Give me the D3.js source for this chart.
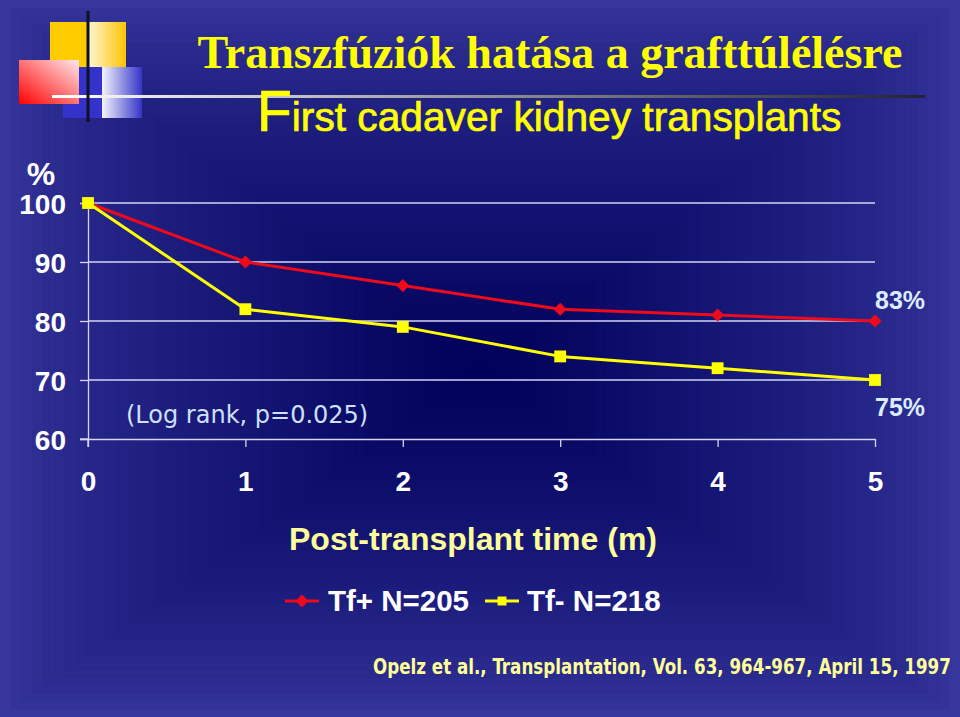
<!DOCTYPE html>
<html>
<head>
<meta charset="utf-8">
<script src="https://cdn.jsdelivr.net/npm/d3@7"></script>
<style>
  html, body { margin: 0; padding: 0; background: #2a2a8c; }
  svg { display: block; }
</style>
</head>
<body>
<div id="chart"></div>
<script>
// data
const months = [0, 1, 2, 3, 4, 5];
const tfPlus = [100, 90, 86, 82, 81, 80];
const tfMinus = [100, 82, 79, 74, 72, 70];
const yTicks = [60, 70, 80, 90, 100];
const gridTicks = [70, 80, 90, 100];
const seriesNames = ["Tf+ N=205", "Tf- N=218"];
const endLabels = ["83%", "75%"];

const width = 960, height = 717;
const margin = {top: 203, right: 85, bottom: 278, left: 88};

const svg = d3.select("#chart").append("svg")
  .attr("width", width)
  .attr("height", height)
  .attr("viewBox", [0, 0, width, height]);

const defs = svg.append("defs");

// background: rectangular gradient, light edge -> dark centre
const bg = svg.append("g");
const steps = 46, cx = 480, cy = 372;
const bgColor = d3.interpolateRgb("#36369c", "#00005a");
for (let i = 0; i < steps; i++) {
  const t = i / steps;
  const c = bgColor(Math.pow(t, 0.7));
  bg.append("rect")
    .attr("x", cx * t)
    .attr("y", cy * t)
    .attr("width", width - width * t)
    .attr("height", height - height * t)
    .attr("fill", c)
    .attr("stroke", d3.color(c).brighter(0.3))
    .attr("stroke-width", 0.6);
}

// decoration in the top left corner
const grad = (id, x1, y1, x2, y2, c1, c2) => {
  const g = defs.append("linearGradient").attr("id", id)
    .attr("x1", x1).attr("y1", y1).attr("x2", x2).attr("y2", y2);
  g.append("stop").attr("offset", "0%").attr("stop-color", c1);
  g.append("stop").attr("offset", "100%").attr("stop-color", c2);
};
grad("yellowGrad", 0, 0, 1, 0, "#fff6d8", "#ffc400");
grad("blueGrad", 0, 0, 1, 0, "#f4f4ff", "#3434c8");
grad("redGrad", 1, 0, 0, 1, "#ffe8ec", "#ff0000");
grad("lineGrad", 0, 0, 1, 0, "#ffffff", "#222233");

const deco = svg.append("g");
deco.append("rect").attr("x", 50).attr("y", 22).attr("width", 38).attr("height", 45).attr("fill", "#ffcc00");
deco.append("rect").attr("x", 88).attr("y", 22).attr("width", 38).attr("height", 45).attr("fill", "url(#yellowGrad)");
deco.append("rect").attr("x", 63).attr("y", 67).attr("width", 39).attr("height", 51).attr("fill", "#3333cc");
deco.append("rect").attr("x", 102).attr("y", 67).attr("width", 40).attr("height", 51).attr("fill", "url(#blueGrad)");
deco.append("rect").attr("x", 19).attr("y", 60).attr("width", 60).attr("height", 44).attr("fill", "url(#redGrad)");
deco.append("rect").attr("x", 52).attr("y", 95).attr("width", 873).attr("height", 3).attr("fill", "url(#lineGrad)");
deco.append("rect").attr("x", 86.5).attr("y", 11).attr("width", 3).attr("height", 111).attr("fill", "#111122");

// titles
svg.append("text")
  .attr("x", 550).attr("y", 68)
  .attr("text-anchor", "middle")
  .attr("font-family", "'Liberation Serif', 'Times New Roman', serif")
  .attr("font-weight", "bold")
  .attr("font-size", 46)
  .attr("fill", "#ffff00")
  .text("Transzfúziók hatása a grafttúlélésre");

const sub = svg.append("text")
  .attr("x", 257).attr("y", 131)
  .attr("font-family", "'Liberation Sans', Arial, sans-serif")
  .attr("fill", "#ffff00")
  .attr("stroke", "#ffff00")
  .attr("stroke-width", 0.7);
sub.append("tspan").attr("font-size", 57).text("F");
sub.append("tspan").attr("font-size", 40.7).text("irst cadaver kidney transplants");

// scales
const x = d3.scaleLinear().domain([0, 5]).range([margin.left, width - margin.right]);
const y = d3.scaleLinear().domain([60, 100]).range([height - margin.bottom, margin.top]);

const axisColor = "#d4d4f4";
const labelFont = "'Liberation Sans', Arial, sans-serif";

// grid lines
svg.append("g")
  .selectAll("line")
  .data(gridTicks)
  .join("line")
  .attr("x1", x(0)).attr("x2", x(5))
  .attr("y1", d => y(d)).attr("y2", d => y(d))
  .attr("stroke", axisColor)
  .attr("stroke-width", 1.3);

// y axis
svg.append("g")
  .attr("transform", `translate(${x(0)},0)`)
  .call(d3.axisLeft(y).tickValues(yTicks).tickSize(8).tickPadding(14))
  .call(g => g.select(".domain").attr("stroke", axisColor).attr("stroke-width", 1.3))
  .call(g => g.selectAll(".tick line").attr("stroke", axisColor).attr("stroke-width", 1.3))
  .call(g => g.selectAll(".tick text")
    .attr("fill", "#ffffff")
    .attr("font-family", labelFont)
    .attr("font-weight", "bold")
    .attr("font-size", 28)
    .attr("dy", "0.36em"));

// x axis
svg.append("g")
  .attr("transform", `translate(0,${y(60)})`)
  .call(d3.axisBottom(x).tickValues(months).tickFormat(d3.format("d")).tickSize(8).tickPadding(24).tickSizeOuter(0))
  .call(g => g.select(".domain").attr("stroke", axisColor).attr("stroke-width", 1.3))
  .call(g => g.selectAll(".tick line").attr("stroke", axisColor).attr("stroke-width", 1.3))
  .call(g => g.selectAll(".tick text")
    .attr("fill", "#ffffff")
    .attr("font-family", labelFont)
    .attr("font-weight", "bold")
    .attr("font-size", 28));

// corner stubs of the axes
svg.append("line")
  .attr("x1", x(0) - 8).attr("x2", x(0))
  .attr("y1", y(60)).attr("y2", y(60))
  .attr("stroke", axisColor).attr("stroke-width", 1.3);
svg.append("line")
  .attr("x1", x(0)).attr("x2", x(0))
  .attr("y1", y(60)).attr("y2", y(60) + 8)
  .attr("stroke", axisColor).attr("stroke-width", 1.3);

// "%" unit
svg.append("text")
  .attr("x", 41).attr("y", 185)
  .attr("text-anchor", "middle")
  .attr("fill", "#ffffff")
  .attr("font-family", labelFont)
  .attr("font-weight", "bold")
  .attr("font-size", 32)
  .text("%");

// lines
const line = d3.line().x((d, i) => x(months[i])).y(d => y(d));
const diamond = d3.symbol().type(d3.symbolSquare).size(85);
const square = d3.symbol().type(d3.symbolSquare).size(140);

svg.append("path")
  .datum(tfPlus)
  .attr("fill", "none")
  .attr("stroke", "#ee0a1a")
  .attr("stroke-width", 3)
  .attr("stroke-linejoin", "round")
  .attr("d", line);
svg.append("g")
  .selectAll("path")
  .data(tfPlus)
  .join("path")
  .attr("transform", (d, i) => `translate(${x(months[i])},${y(d)}) rotate(45)`)
  .attr("d", diamond)
  .attr("fill", "#ee0a1a");

svg.append("path")
  .datum(tfMinus)
  .attr("fill", "none")
  .attr("stroke", "#ffff00")
  .attr("stroke-width", 3)
  .attr("stroke-linejoin", "round")
  .attr("d", line);
svg.append("g")
  .selectAll("path")
  .data(tfMinus)
  .join("path")
  .attr("transform", (d, i) => `translate(${x(months[i])},${y(d)})`)
  .attr("d", square)
  .attr("fill", "#ffff00");

// end labels
svg.append("text")
  .attr("x", x(5)).attr("y", y(tfPlus[5]) - 12)
  .attr("fill", "#dcecff")
  .attr("font-family", labelFont)
  .attr("font-weight", "bold")
  .attr("font-size", 25)
  .text(endLabels[0]);
svg.append("text")
  .attr("x", x(5)).attr("y", y(tfMinus[5]) + 36)
  .attr("fill", "#dcecff")
  .attr("font-family", labelFont)
  .attr("font-weight", "bold")
  .attr("font-size", 25)
  .text(endLabels[1]);

// log rank note
svg.append("text")
  .attr("x", 126).attr("y", 423)
  .attr("fill", "#cfe0ff")
  .attr("font-family", "'DejaVu Sans', Verdana, sans-serif")
  .attr("font-size", 24)
  .text("(Log rank, p=0.025)");

// axis title
svg.append("text")
  .attr("x", 473).attr("y", 550)
  .attr("text-anchor", "middle")
  .attr("fill", "#ffff99")
  .attr("font-family", labelFont)
  .attr("font-weight", "bold")
  .attr("font-size", 32)
  .text("Post-transplant time (m)");

// legend
const legend = svg.append("g").attr("transform", "translate(0,601)");
const legendItems = [
  {name: seriesNames[0], color: "#ee0a1a", x0: 285, text: 328, sym: diamond, rot: 45},
  {name: seriesNames[1], color: "#ffff00", x0: 485, text: 527, sym: d3.symbol().type(d3.symbolSquare).size(80), rot: 0}
];
legendItems.forEach(it => {
  legend.append("line")
    .attr("x1", it.x0).attr("x2", it.x0 + 34)
    .attr("stroke", it.color).attr("stroke-width", 3);
  legend.append("path")
    .attr("transform", `translate(${it.x0 + 17},0) rotate(${it.rot})`)
    .attr("d", it.sym)
    .attr("fill", it.color);
  legend.append("text")
    .attr("x", it.text).attr("y", 10)
    .attr("fill", "#ffffff")
    .attr("font-family", labelFont)
    .attr("font-weight", "bold")
    .attr("font-size", 29.5)
    .text(it.name);
});

// citation: condensed by a horizontal scale so it fits 373..951
const cite = svg.append("text")
  .attr("x", 0).attr("y", 0)
  .attr("fill", "#ffff99")
  .attr("font-family", "'Liberation Sans Narrow', 'DejaVu Sans Condensed', 'Arial Narrow', sans-serif")
  .attr("font-weight", "bold")
  .attr("font-size", 21)
  .text("Opelz et al., Transplantation, Vol. 63, 964-967, April 15, 1997");
const citeW = cite.node().getComputedTextLength();
cite.attr("transform", `translate(373,674) scale(${578 / citeW},1)`);
</script>
</body>
</html>
